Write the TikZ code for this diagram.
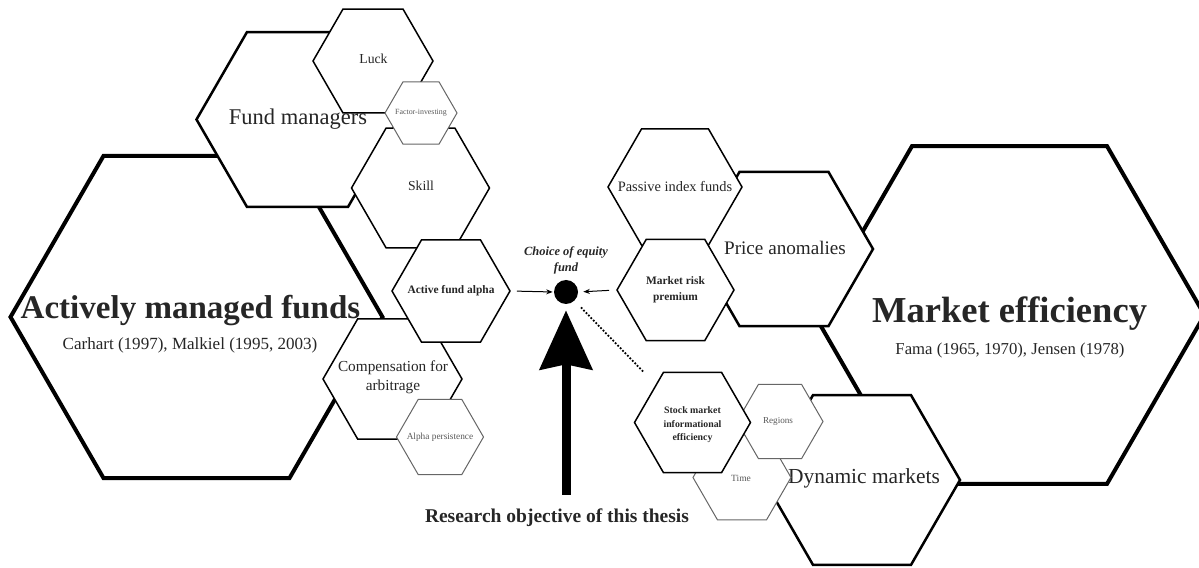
\documentclass[tikz,border=0pt]{standalone}
\usepackage{fontspec}
\setmainfont{Liberation Serif}
\usetikzlibrary{shapes.geometric, arrows.meta}

\begin{document}
\begin{tikzpicture}[
    hexa/.style={regular polygon, regular polygon sides=6, draw, fill=white, inner sep=0pt, minimum size=#1},
    hexbig/.style={hexa=#1, line width=0.08cm},
    hexmid/.style={hexa=#1, line width=0.05cm},
    hexsmall/.style={hexa=#1, line width=0.03cm},
    hexgray/.style={hexa=#1, draw=black!60, line width=0.02cm},
    txt/.style={text=black!85, inner sep=0pt, align=center},
    txtgray/.style={text=black!65, inner sep=0pt, align=center},
    smallarrow/.style={-{Stealth[length=0.13cm, width=0.1cm]}, line width=0.02cm},
    bigarrow/.style={-{Stealth[length=1.18cm, width=1.04cm, inset=0.1cm]}, line width=0.18cm},
    dots/.style={line width=0.05cm, line cap=round, dash pattern=on 0pt off 0.07cm}
]
    \useasboundingbox (0,0) rectangle (23.98,11.34);

    % Actively managed funds (main left hexagon)
    \node[hexbig=7.44cm] (amf) at (3.93,5.00) {};
    \node[txt, anchor=base, font=\fontsize{18.8}{22}\selectfont\bfseries] (amf-title) at (3.81,4.96) {Actively managed funds};
    \node[txt, anchor=base, font=\fontsize{9.7}{12}\selectfont] (amf-cite) at (3.80,4.34) {Carhart (1997), Malkiel (1995, 2003)};

    % Fund managers and its sub-hexagons
    \node[hexmid=4.04cm] (fm) at (5.95,8.95) {};
    \node[txt, font=\fontsize{12.8}{15}\selectfont] (fm-t) at (5.96,8.95) {Fund managers};

    \node[hexsmall=2.4cm] (luck) at (7.46,10.12) {};
    \node[txt, font=\fontsize{7.8}{9}\selectfont] (luck-t) at (7.47,10.16) {Luck};

    \node[hexsmall=2.76cm] (skill) at (8.41,7.58) {};
    \node[txt, font=\fontsize{7.8}{9}\selectfont] (skill-t) at (8.42,7.62) {Skill};

    \node[hexgray=1.44cm] (fi) at (8.42,9.08) {};
    \node[txtgray, font=\fontsize{4.5}{5.5}\selectfont] (fi-t) at (fi) {Factor-investing};

    % Compensation for arbitrage
    \node[hexsmall=2.78cm] (comp) at (7.85,3.76) {};
    \node[txt, font=\fontsize{8.7}{10.8}\selectfont] (comp-t) at (7.86,3.79) {Compensation for\\arbitrage};

    % Active fund alpha
    \node[hexsmall=2.36cm] (afa) at (9.02,5.52) {};
    \node[txt, font=\fontsize{6.5}{8}\selectfont\bfseries] (afa-t) at (afa) {Active fund alpha};

    \node[hexgray=1.74cm] (ap) at (8.80,2.60) {};
    \node[txtgray, font=\fontsize{5.3}{6.5}\selectfont] (ap-t) at (ap) {Alpha persistence};

    % Market efficiency (main right hexagon)
    \node[hexbig=7.8cm] (me) at (20.19,5.04) {};
    \node[txt, anchor=base, font=\fontsize{20.8}{24}\selectfont\bfseries] (me-title) at (20.19,4.88) {Market efficiency};
    \node[txt, anchor=base, font=\fontsize{9.5}{12}\selectfont] (me-cite) at (20.20,4.24) {Fama (1965, 1970), Jensen (1978)};

    % Price anomalies, passive funds and market risk premium
    \node[hexmid=3.56cm] (pa) at (15.68,6.36) {};
    \node[txt, font=\fontsize{10.9}{13}\selectfont] (pa-t) at (15.70,6.38) {Price anomalies};

    \node[hexsmall=2.68cm] (pif) at (13.50,7.60) {};
    \node[txt, font=\fontsize{8.2}{10}\selectfont] (pif-t) at (pif) {Passive index funds};

    \node[hexsmall=2.34cm] (mrp) at (13.51,5.54) {};
    \node[txt, font=\fontsize{6.5}{9.1}\selectfont\bfseries] (mrp-t) at (mrp) {Market risk\\premium};

    % Dynamic markets and its sub-hexagons
    \node[hexmid=3.92cm] (dm) at (17.24,1.74) {};
    \node[txt, font=\fontsize{12.2}{15}\selectfont] (dm-t) at (17.28,1.78) {Dynamic markets};

    \node[hexgray=1.96cm] (time) at (14.84,1.79) {};
    \node[txtgray, font=\fontsize{5.4}{6.5}\selectfont] (time-t) at (14.82,1.78) {Time};

    \node[hexgray=1.72cm] (reg) at (15.60,2.91) {};
    \node[txtgray, font=\fontsize{5.2}{6.5}\selectfont] (reg-t) at (15.56,2.92) {Regions};

    \node[hexsmall=2.32cm] (smie) at (13.85,2.89) {};
    \node[txt, font=\fontsize{5.6}{7.7}\selectfont\bfseries] (smie-t) at (13.85,2.84) {Stock market\\informational\\efficiency};

    % Choice of equity fund (research focus)
    \node[circle, fill=black, inner sep=0pt, minimum size=0.48cm] (choice) at (11.32,5.50) {};
    \node[txt, font=\fontsize{7.1}{9.1}\selectfont\bfseries\itshape] (choice-t) at (11.32,6.14) {Choice of equity\\fund};

    % Arrows into the choice
    \draw[smallarrow, shorten <=0.12cm, shorten >=0.02cm] (afa.east) -- (choice.west);
    \draw[smallarrow, shorten <=0.14cm, shorten >=0.1cm] (mrp.west) -- (choice.east);
    \draw[dots, shorten <=0.2cm, shorten >=0.35cm] (choice) -- (smie);

    % Research objective arrow
    \coordinate (objbase) at (11.32,1.44);
    \draw[bigarrow, shorten >=0.12cm] (objbase) -- (choice);
    \node[txt, font=\fontsize{11.1}{13}\selectfont\bfseries] (obj-t) at (11.14,0.98) {Research objective of this thesis};

\end{tikzpicture}
\end{document}
